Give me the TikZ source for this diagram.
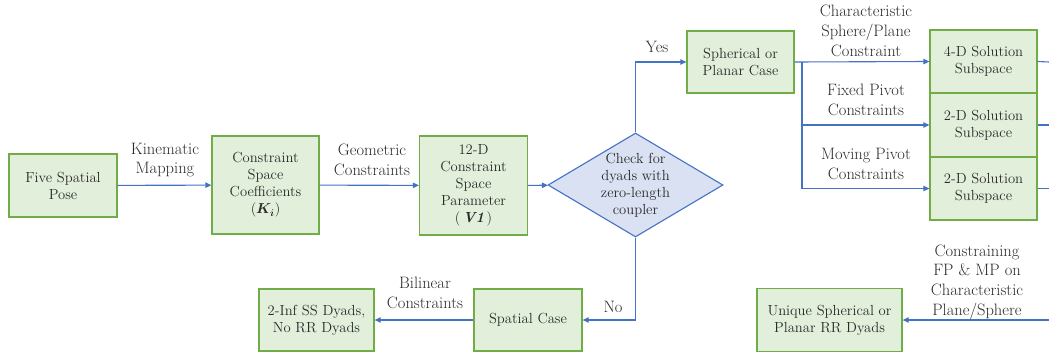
\documentclass[tikz,border=0pt]{standalone}
\usepackage{bm}
\usetikzlibrary{shapes.geometric,arrows.meta}
\definecolor{boxfill}{HTML}{E2EFDA}
\definecolor{boxline}{HTML}{70AD47}
\definecolor{decfill}{HTML}{D9E1F2}
\definecolor{flow}{HTML}{4472C4}
\definecolor{ink}{HTML}{2A2A2A}
\begin{document}
\begin{tikzpicture}[x=1pt,y=-1pt,
  every node/.style={text=ink,font=\fontsize{14.6}{17}\selectfont},
  procbox/.style={draw=boxline,fill=boxfill,line width=1.3pt,align=center,inner sep=0pt},
  decision/.style={diamond,draw=flow,fill=decfill,line width=1.1pt,inner sep=0pt,
    minimum width=175pt,minimum height=104pt},
  lbl/.style={align=center,inner sep=0pt,font=\fontsize{16.5}{19.8}\selectfont},
  flowline/.style={draw=flow,line width=1.1pt},
  flowarrow/.style={flowline,-{Triangle[length=6pt,width=5.5pt]}}]
\useasboundingbox (0,0) rectangle (1049,356);

% main chain
\node[procbox,minimum width=108pt,minimum height=63pt] (five) at (63,185.5) {Five Spatial\\Pose};
\node[procbox,minimum width=107pt,minimum height=98pt] (coeff) at (265.5,185) {Constraint\\Space\\Coefficients\\$(\bm{K_i})$};
\node[procbox,minimum width=108pt,minimum height=99pt] (param) at (473.5,185.5) {12-D\\Constraint\\Space\\Parameter\\$(\,$\textbf{\textit{V1}}$\,)$};
% decision diamond with its text set on top, so the outline keeps its size
\node[decision] (check) at (635.5,185) {};
\node[align=center,inner sep=0pt] (checktext) at (check.center) {Check for\\dyads with\\zero-length\\coupler};

% planar / spherical branch
\node[procbox,minimum width=107pt,minimum height=62pt] (sph) at (740.5,62) {Spherical or\\Planar Case};
\node[procbox,minimum width=107pt,minimum height=63pt] (s4) at (983.5,61.5) {4-D Solution\\Subspace};
\node[procbox,minimum width=107pt,minimum height=64pt] (s2a) at (983.5,125) {2-D Solution\\Subspace};
\node[procbox,minimum width=107pt,minimum height=63pt] (s2b) at (983.5,188.5) {2-D Solution\\Subspace};

% spatial branch
\node[procbox,minimum width=108pt,minimum height=62pt] (spatial) at (528,320) {Spatial Case};
\node[procbox,minimum width=115pt,minimum height=62pt] (inf) at (316.5,320) {2-Inf SS Dyads,\\No RR Dyads};
\node[procbox,minimum width=145pt,minimum height=63pt] (unique) at (829.5,320) {Unique Spherical or\\Planar RR Dyads};

% connectors
\draw[flowarrow] (five) -- (coeff);
\draw[flowarrow] (coeff) -- (param);
\draw[flowarrow] (param) -- (check);
\draw[flowarrow] (check.north) |- (sph.west);
\draw[flowarrow] (check.south) |- (spatial.east);
\draw[flowarrow] (spatial) -- (inf);

\coordinate (fork) at (802,62);
\draw[flowarrow] (sph.east) -- (s4.west);
\draw[flowline] (fork) -- (802,188.5);
\draw[flowarrow] (802,125) -- (s2a.west);
\draw[flowarrow] (802,188.5) -- (s2b.west);

\coordinate (out1) at (1049,62);
\coordinate (out2) at (1049,125);
\coordinate (out3) at (1049,188.5);
\coordinate (in1) at (1049,320);
\draw[flowline] (s4.east) -- (out1);
\draw[flowline] (s2a.east) -- (out2);
\draw[flowline] (s2b.east) -- (out3);
\draw[flowarrow] (in1) -- (unique.east);

% connector labels
\node[lbl] (lkin) at (165,160) {Kinematic\\Mapping};
\node[lbl] (lgeo) at (372,160) {Geometric\\Constraints};
\node[lbl] (lyes) at (657,47) {Yes};
\node[lbl] (lno) at (613,307) {No};
\node[lbl] (lbil) at (425,293) {Bilinear\\Constraints};
\node[lbl] (lchar) at (866,31) {Characteristic\\Sphere/Plane\\Constraint};
\node[lbl] (lfix) at (866,100) {Fixed Pivot\\Constraints};
\node[lbl] (lmov) at (866,164) {Moving Pivot\\Constraints};
\node[lbl] (lcon) at (977,282) {Constraining\\FP \& MP on\\Characteristic\\Plane/Sphere};
\end{tikzpicture}
\end{document}
